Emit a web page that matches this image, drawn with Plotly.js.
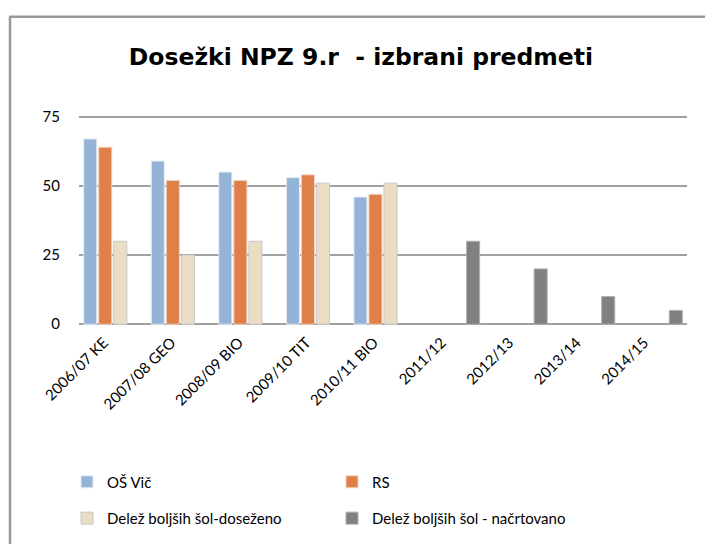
<!DOCTYPE html>
<html>
<head>
<meta charset="utf-8">
<script src="https://cdn.plot.ly/plotly-3.0.1.min.js"></script>
<style>
  html, body { margin: 0; padding: 0; background: #fff; }
  #chart { width: 705px; height: 547px; }
</style>
</head>
<body>
<div id="chart"></div>
<script>
const categories = ["2006/07 KE", "2007/08 GEO", "2008/09 BIO", "2009/10 TIT", "2010/11 BIO", "2011/12", "2012/13", "2013/14", "2014/15"];
const osVic = [67, 59, 55, 53, 46, null, null, null, null];
const rs = [64, 52, 52, 54, 47, null, null, null, null];
const dosezeno = [30, 25, 30, 51, 51, null, null, null, null];
const nacrtovano = [null, null, null, null, null, 30, 20, 10, 5];
const seriesNames = ["OŠ Vič", "RS", "Delež boljših šol-doseženo", "Delež boljših šol - načrtovano"];
const yTicks = [0, 25, 50, 75];

const FONT = "Lato, 'Noto Sans', sans-serif";

function bar(name, values, color, lineColor, legend) {
  return {
    type: "bar", name: name, x: categories, y: values,
    marker: { color: color, line: { color: lineColor, width: 1 } },
    legend: legend, hoverinfo: "x+y+name"
  };
}

const data = [
  bar(seriesNames[0], osVic, "#95B3D7", "#e4ecf5", "legend"),
  bar(seriesNames[1], rs, "#DE8048", "#f3d2bf", "legend"),
  bar(seriesNames[2], dosezeno, "#EADDC4", "#c8c8c8", "legend2"),
  bar(seriesNames[3], nacrtovano, "#808080", "#b0b0b0", "legend2")
];

// plot area padded so the 0 and 75 gridlines sit inside it (0 -> y 328, 75 -> y 117)
const L = 79, R = 687, T = 114, B = 331, W = 705, H = 547;
const px = p => (p - L) / (R - L);
const py = p => (B - p) / (B - T);

const legendCommon = {
  orientation: "h", entrywidth: 220, entrywidthmode: "pixels",
  font: { family: FONT, size: 15, color: "#000" },
  xanchor: "left", yanchor: "middle", bgcolor: "rgba(0,0,0,0)",
  itemwidth: 30, traceorder: "normal"
};

const layout = {
  width: W, height: H,
  margin: { l: L, r: W - R, t: T, b: H - B, pad: 0 },
  paper_bgcolor: "#fff", plot_bgcolor: "#fff",
  font: { family: FONT, size: 15, color: "#000" },
  title: {
    text: "Dosežki NPZ 9.r  - izbrani predmeti",
    font: { family: "'DejaVu Sans', sans-serif", size: 23.5, color: "#000", weight: "bold" },
    x: 0.512, xanchor: "center", y: 1 - 57 / H, yanchor: "middle"
  },
  barmode: "group", bargap: 0.11, bargroupgap: 0.13,
  xaxis: {
    type: "category", tickangle: -45, showgrid: false, zeroline: false,
    showline: false, ticks: "", ticklabelshift: -9, ticklabelstandoff: 3,
    tickfont: { family: FONT, size: 15, color: "#000" }
  },
  yaxis: {
    range: [-1, 76], tickvals: yTicks, ticktext: yTicks.map(String),
    showgrid: true, gridcolor: "#a0a0a0", gridwidth: 1.5, zeroline: false,
    showline: false, ticks: "", ticklabelstandoff: 18,
    tickfont: { family: FONT, size: 15, color: "#000" }
  },
  showlegend: true,
  legend: Object.assign({}, legendCommon, { x: px(67), y: py(489) }),
  legend2: Object.assign({}, legendCommon, { x: px(67), y: py(526) }),
  shapes: [
    { type: "line", xref: "paper", yref: "paper", x0: px(10), x1: px(10), y0: py(H + 5), y1: py(15),
      line: { color: "#999", width: 2.5 } },
    { type: "line", xref: "paper", yref: "paper", x0: px(9), x1: px(W + 5), y0: py(15), y1: py(15),
      line: { color: "#999", width: 2.5 } }
  ]
};

Plotly.newPlot("chart", data, layout, { displayModeBar: false, staticPlot: true });
</script>
</body>
</html>
